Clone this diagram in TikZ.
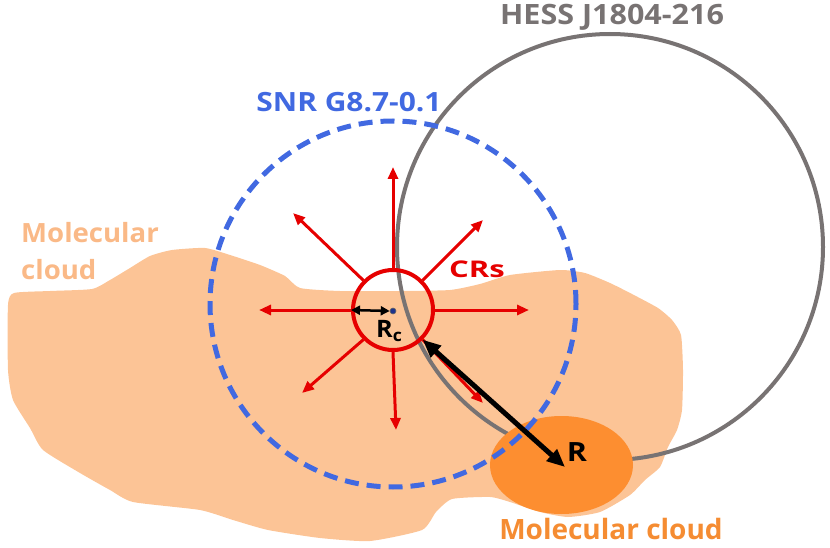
\documentclass[tikz,border=0pt]{standalone}
\usepackage{fontspec}
\setmainfont{Open Sans}
\usetikzlibrary{arrows.meta}
\definecolor{cloudlight}{RGB}{252,196,150}
\definecolor{cloudtext}{RGB}{250,185,135}
\definecolor{cloudcore}{RGB}{253,142,48}
\definecolor{coretext}{RGB}{245,140,50}
\definecolor{hessgray}{RGB}{120,115,115}
\definecolor{snrblue}{RGB}{65,105,225}
\definecolor{crred}{RGB}{230,0,0}
\definecolor{dotblue}{RGB}{30,50,140}

\begin{document}
\begin{tikzpicture}[x=1pt,y=-1pt,
    >={Triangle[length=12pt,width=10pt]},
    lbl/.style 2 args={font=\bfseries\fontsize{#1}{#1}\selectfont,
        xscale=#2,transform shape},
    cr/.style={draw=crred,line width=3pt},
]
    \useasboundingbox (0,0) rectangle (830,548);

    % the big, pale molecular cloud
    \fill[cloudlight] plot[smooth cycle,tension=0.35] coordinates {
        (8,305) (14,293) (50,291) (92,289) (110,280) (130,268)
        (150,256) (172,250) (205,248) (230,255) (260,265) (285,276)
        (300,288) (340,291) (400,291) (450,290) (480,284) (510,275)
        (560,270) (585,273) (610,283) (632,294) (658,308) (672,320)
        (681,335) (683,370) (682,410) (677,430) (668,447) (660,467)
        (645,480) (630,495) (600,512) (568,517) (540,512) (510,502)
        (490,497) (452,499) (436,512) (422,530) (370,541) (320,538)
        (268,530) (233,520) (200,510) (133,502) (110,490) (80,473)
        (43,450) (30,428) (13,400) (8,370)
    };

    \draw[hessgray,line width=4pt] (610,247) circle[radius=213pt];
    \fill[cloudcore] (561.5,465) ellipse[x radius=71.5pt,y radius=49pt];
    \draw[snrblue,line width=5pt,dash pattern=on 14pt off 8pt]
        (393,304) circle[radius=183pt];

    % cosmic rays leaving the source
    \node[draw=crred,line width=4pt,circle,minimum size=80pt,inner sep=0pt]
        (src) at (393,310) {};
    \foreach \ang/\tx/\ty in {90/393/167,45/483/220,0/529/310,315/483/403,
        270/396/430,225/302/393,180/259/310,135/293/213}{
        \coordinate (tip\ang) at (\tx,\ty);
        \draw[cr,->] (src.\ang) -- (tip\ang);
    }

    \node[circle,fill=dotblue,draw=black!60,line width=0.6pt,
        inner sep=0pt,minimum size=6pt] (ctr) at (393,311) {};
    \draw[<->,line width=2.5pt,>={Triangle[length=9pt,width=9pt]}]
        (src.west) -- (ctr.west);
    \node[lbl={24}{1.05},anchor=west,inner sep=0pt] (rc) at (376,331)
        {R\textsubscript{c}};

    \coordinate (rend) at (565,467);
    \draw[<->,line width=5pt,>={Triangle[length=18pt,width=15pt]}]
        (src.-45) -- (rend);
    \node[lbl={26.5}{1.15},inner sep=0pt] (rlab) at (577,452) {R};

    % labels
    \node[lbl={28}{1.09},hessgray] (hess) at (612,17) {HESS J1804-216};
    \node[lbl={26.5}{1.13},snrblue] (snr) at (349,102) {SNR G8.7-0.1};
    \node[lbl={23}{1.35},crred] (crs) at (477,269) {CRs};
    \node[lbl={26.5}{1.04},cloudtext,align=left,anchor=north west,
        inner sep=0pt,font=\bfseries\fontsize{26.5}{37}\selectfont] (mc)
        at (21,222) {Molecular\\cloud};
    \node[lbl={28}{1},coretext] (mccore) at (611,529) {Molecular cloud};
\end{tikzpicture}
\end{document}
